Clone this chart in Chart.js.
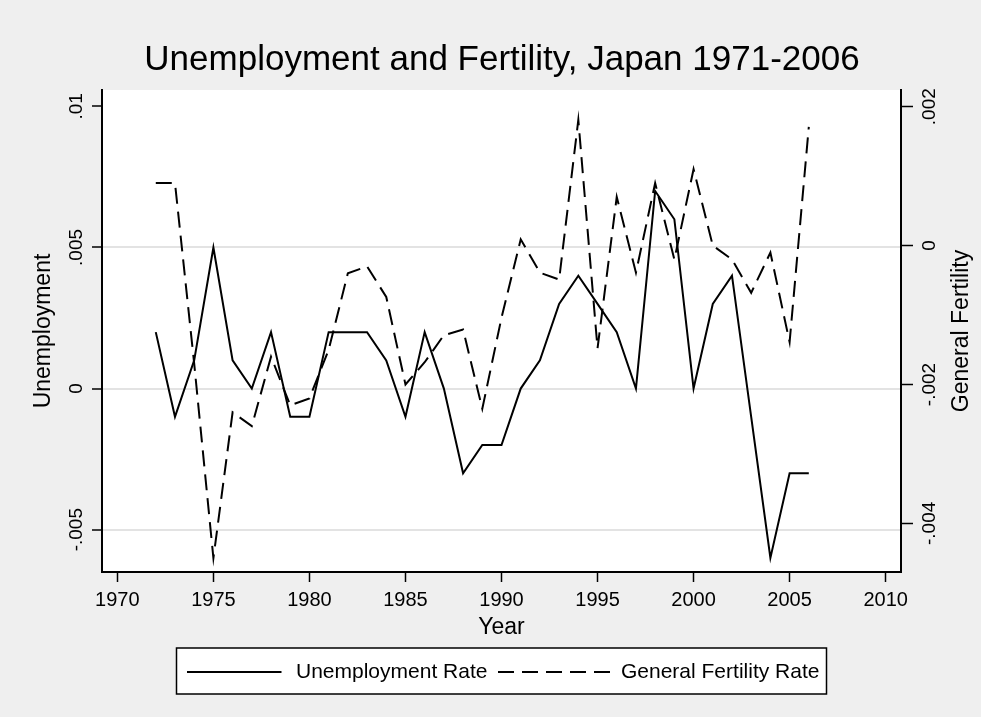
<!DOCTYPE html>
<html>
<head>
<meta charset="utf-8">
<title>Unemployment and Fertility, Japan 1971-2006</title>
<script src="https://cdn.jsdelivr.net/npm/chart.js@4.4.1/dist/chart.umd.min.js"></script>
<style>
  html, body { margin: 0; padding: 0; background: #efefef; }
  canvas { display: block; }
</style>
</head>
<body>
<canvas id="chart" width="981" height="717"></canvas>
<script>
// year-on-year changes, 1972-2006
const years = [1972, 1973, 1974, 1975, 1976, 1977, 1978, 1979, 1980, 1981,
               1982, 1983, 1984, 1985, 1986, 1987, 1988, 1989, 1990, 1991,
               1992, 1993, 1994, 1995, 1996, 1997, 1998, 1999, 2000, 2001,
               2002, 2003, 2004, 2005, 2006];
const unemployment = [0.002, -0.001, 0.001, 0.005, 0.001, 0, 0.002, -0.001, -0.001, 0.002,
                      0.002, 0.002, 0.001, -0.001, 0.002, 0, -0.003, -0.002, -0.002, 0,
                      0.001, 0.003, 0.004, 0.003, 0.002, 0, 0.007, 0.006, 0, 0.003,
                      0.004, -0.001, -0.006, -0.003, -0.003];
const fertility = [0.0009, 0.0009, -0.0017, -0.0045, -0.0024, -0.0026, -0.0016, -0.0023, -0.0022, -0.0015,
                   -0.0004, -0.0003, -0.00074, -0.002, -0.00168, -0.00129, -0.00121, -0.00235, -0.00104, 0.00009,
                   -0.00039, -0.00049, 0.00181, -0.00148, 0.0007, -0.00039, 0.0009, -0.0002, 0.0011, 0,
                   -0.0002, -0.00068, -0.0001, -0.00139, 0.00171];

const yearTicks = [1970, 1975, 1980, 1985, 1990, 1995, 2000, 2005, 2010];
const unempTicks = [-0.005, 0, 0.005, 0.01];
const fertTicks = [-0.004, -0.002, 0, 0.002];

const FAMILY = '"Liberation Sans", Arial, Helvetica, sans-serif';
const DASH = [16, 8];

// Stata style numbers: .005, -.002, 0
function fmt(v) {
  return String(+v.toFixed(6)).replace(/^(-?)0\./, '$1.');
}

// text rotated to read bottom to top, baseline on its right side
function drawUp(ctx, text, x, y, size) {
  ctx.save();
  ctx.translate(x, y);
  ctx.rotate(-Math.PI / 2);
  ctx.font = size + 'px ' + FAMILY;
  ctx.fillStyle = '#000';
  ctx.textAlign = 'center';
  ctx.textBaseline = 'alphabetic';
  ctx.fillText(text, 0, 0);
  ctx.restore();
}

const stataFrame = {
  id: 'stataFrame',
  beforeDraw(chart) {
    const { ctx, chartArea: a } = chart;
    ctx.save();
    ctx.fillStyle = '#efefef';
    ctx.fillRect(0, 0, chart.width, chart.height);
    ctx.fillStyle = '#ffffff';
    ctx.fillRect(a.left, a.top, a.right - a.left, a.bottom - a.top);
    ctx.restore();
  },
  afterDraw(chart) {
    const { ctx, chartArea: a, scales } = chart;
    const midY = (a.top + a.bottom) / 2;

    // vertical tick labels on both y axes
    unempTicks.forEach(v => drawUp(ctx, fmt(v), a.left - 20, scales.y.getPixelForValue(v), 19));
    fertTicks.forEach(v => drawUp(ctx, fmt(v), a.right + 34, scales.y2.getPixelForValue(v), 19));

    // axis titles
    drawUp(ctx, 'Unemployment', a.left - 52, midY, 23);
    drawUp(ctx, 'General Fertility', a.right + 67, midY, 23);

    // legend box under the x axis title
    const cx = (a.left + a.right) / 2;
    const boxW = 650, boxH = 46;
    const left = cx - boxW / 2, top = a.bottom + 76;
    ctx.save();
    ctx.fillStyle = '#ffffff';
    ctx.fillRect(left, top, boxW, boxH);
    ctx.strokeStyle = '#000';
    ctx.lineWidth = 1.5;
    ctx.strokeRect(left, top, boxW, boxH);

    const lineY = top + 24;
    const items = [
      { label: chart.data.datasets[0].label, dash: [], x0: left + 10.5, x1: left + 105, tx: left + 119.5 },
      { label: chart.data.datasets[1].label, dash: DASH, x0: left + 321.5, x1: left + 433.5, tx: left + 444.5 }
    ];
    ctx.lineWidth = 2;
    ctx.font = '21px ' + FAMILY;
    ctx.fillStyle = '#000';
    ctx.textAlign = 'left';
    ctx.textBaseline = 'alphabetic';
    items.forEach(it => {
      ctx.setLineDash(it.dash);
      ctx.beginPath();
      ctx.moveTo(it.x0, lineY);
      ctx.lineTo(it.x1, lineY);
      ctx.stroke();
      ctx.setLineDash([]);
      ctx.fillText(it.label, it.tx, top + 30);
    });
    ctx.restore();
  }
};

Chart.defaults.font.family = FAMILY;
Chart.defaults.color = '#000';

new Chart(document.getElementById('chart'), {
  type: 'line',
  data: {
    datasets: [
      {
        label: 'Unemployment Rate',
        data: years.map((yr, i) => ({ x: yr, y: unemployment[i] })),
        yAxisID: 'y',
        borderColor: '#000',
        borderWidth: 2,
        pointRadius: 0,
        tension: 0,
        fill: false
      },
      {
        label: 'General Fertility Rate',
        data: years.map((yr, i) => ({ x: yr, y: fertility[i] })),
        yAxisID: 'y2',
        borderColor: '#000',
        borderWidth: 2,
        borderDash: DASH,
        pointRadius: 0,
        tension: 0,
        fill: false
      }
    ]
  },
  options: {
    responsive: false,
    animation: false,
    devicePixelRatio: 1,
    layout: { padding: { left: 23, right: 0, top: 0, bottom: 0 } },
    plugins: {
      legend: { display: false },
      tooltip: { enabled: false },
      title: {
        display: true,
        text: 'Unemployment and Fertility, Japan 1971-2006',
        color: '#000',
        font: { size: 35, weight: 'normal', lineHeight: 1.2 },
        padding: { top: 39, bottom: 9 }
      }
    },
    scales: {
      x: {
        type: 'linear',
        position: 'bottom',
        min: 1969.2,
        max: 2010.8,
        afterBuildTicks: s => { s.ticks = yearTicks.map(v => ({ value: v })); },
        afterFit: s => { s.height = 145; },
        ticks: {
          color: '#000',
          font: { size: 20 },
          padding: 6,
          maxRotation: 0,
          autoSkip: false,
          callback: v => String(v)
        },
        grid: { drawOnChartArea: false, drawTicks: true, tickLength: 10, tickColor: '#000', tickWidth: 1.5 },
        border: { display: true, color: '#000', width: 2 },
        title: {
          display: true,
          text: 'Year',
          color: '#000',
          font: { size: 23 },
          padding: { top: 0, bottom: 76 }
        }
      },
      y: {
        position: 'left',
        min: -0.0065,
        max: 0.01058,
        afterBuildTicks: s => { s.ticks = unempTicks.map(v => ({ value: v })); },
        afterFit: s => { s.width = 79; },
        ticks: { display: false },
        grid: {
          color: c => (c.index === unempTicks.length - 1 ? 'rgba(0,0,0,0)' : '#e3e3e3'),
          lineWidth: 2,
          drawTicks: true,
          tickLength: 10,
          tickColor: '#000',
          tickWidth: 1.5
        },
        border: { display: true, color: '#000', width: 2 }
      },
      y2: {
        position: 'right',
        min: -0.0047,
        max: 0.00224,
        afterBuildTicks: s => { s.ticks = fertTicks.map(v => ({ value: v })); },
        afterFit: s => { s.width = 80; },
        ticks: { display: false },
        grid: { drawOnChartArea: false, drawTicks: true, tickLength: 12, tickColor: '#000', tickWidth: 1.5 },
        border: { display: true, color: '#000', width: 2 }
      }
    }
  },
  plugins: [stataFrame]
});
</script>
</body>
</html>
